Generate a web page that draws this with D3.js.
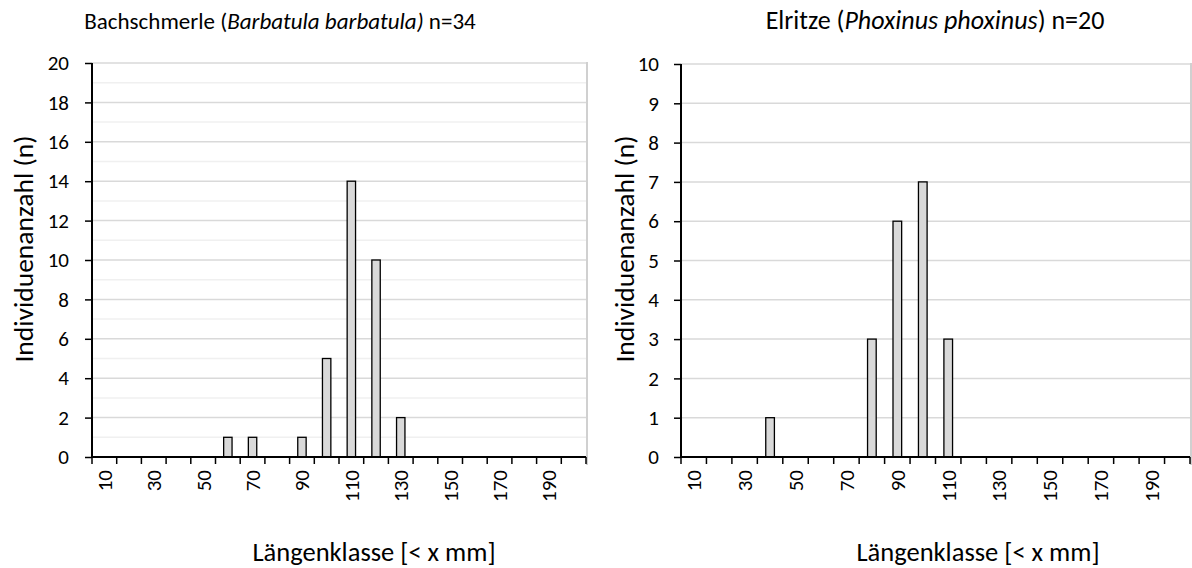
<!DOCTYPE html>
<html>
<head>
<meta charset="utf-8">
<script src="https://cdn.jsdelivr.net/npm/d3@7"></script>
<style>
  body { margin: 0; background: #fff; }
  svg text { font-family: Carlito, Calibri, Lato, sans-serif; fill: #000; }
</style>
</head>
<body>
<div id="chart"></div>
<script>
// Längenklassen (< x mm)
var lengthClasses = [10, 20, 30, 40, 50, 60, 70, 80, 90, 100, 110, 120, 130, 140, 150, 160, 170, 180, 190, 200];
// only every other class gets a label
var shownLabels = [10, 30, 50, 70, 90, 110, 130, 150, 170, 190];

// Bachschmerle counts per class
var schmerleCounts = [0, 0, 0, 0, 0, 1, 1, 0, 1, 5, 14, 10, 2, 0, 0, 0, 0, 0, 0, 0];
var schmerleTicks = [0, 2, 4, 6, 8, 10, 12, 14, 16, 18, 20];
var schmerleMinor = [1, 3, 5, 7, 9, 11, 13, 15, 17, 19];

// Elritze counts per class
var elritzeCounts = [0, 0, 0, 1, 0, 0, 0, 3, 6, 7, 3, 0, 0, 0, 0, 0, 0, 0, 0, 0];
var elritzeTicks = [0, 1, 2, 3, 4, 5, 6, 7, 8, 9, 10];
var elritzeMinor = [];

var FONT = 'Carlito, Calibri, Lato, sans-serif';

var svg = d3.select('#chart')
    .append('svg')
    .attr('width', 1192)
    .attr('height', 568);

function drawPanel(cfg) {
    var g = svg.append('g');

    var x = d3.scaleBand()
        .domain(lengthClasses)
        .range([cfg.left, cfg.right])
        .padding(0);

    var y = d3.scaleLinear()
        .domain([0, d3.max(cfg.ticks)])
        .range([cfg.bottom, cfg.top]);

    // minor gridlines
    g.append('g').selectAll('line')
        .data(cfg.minor)
        .enter()
        .append('line')
        .attr('x1', cfg.left).attr('x2', cfg.right)
        .attr('y1', d => y(d)).attr('y2', d => y(d))
        .attr('stroke', '#f0f0f0')
        .attr('stroke-width', 1.5);

    // major gridlines
    g.append('g').selectAll('line')
        .data(cfg.ticks.filter(d => d > 0))
        .enter()
        .append('line')
        .attr('x1', cfg.left).attr('x2', cfg.right)
        .attr('y1', d => y(d)).attr('y2', d => y(d))
        .attr('stroke', '#d9d9d9')
        .attr('stroke-width', 1.5);

    // right border of the plot area
    g.append('line')
        .attr('x1', cfg.right + 1).attr('x2', cfg.right + 1)
        .attr('y1', cfg.top - 1).attr('y2', cfg.bottom + 8)
        .attr('stroke', '#d0d0d0')
        .attr('stroke-width', 2);

    // bars
    var barW = x.bandwidth() * 0.34;
    g.append('g').selectAll('rect')
        .data(cfg.counts.map((v, i) => ({ cls: lengthClasses[i], n: v })).filter(d => d.n > 0))
        .enter()
        .append('rect')
        .attr('x', d => x(d.cls) + (x.bandwidth() - barW) / 2)
        .attr('y', d => y(d.n))
        .attr('width', barW)
        .attr('height', d => y(0) - y(d.n))
        .attr('fill', '#d9d9d9')
        .attr('stroke', '#000')
        .attr('stroke-width', 1.3);

    // y axis
    var yAxis = d3.axisLeft(y)
        .tickValues(cfg.ticks)
        .tickSize(7)
        .tickPadding(cfg.yPad)
        .tickFormat(d3.format('d'));
    var yG = g.append('g')
        .attr('transform', `translate(${cfg.left}, 0)`)
        .call(yAxis);
    yG.select('.domain').remove();
    yG.selectAll('.tick line').attr('stroke', '#000').attr('stroke-width', 1.5);
    yG.selectAll('.tick text').attr('font-size', 21).attr('fill', '#000')
        .attr('font-family', FONT);

    // x tick marks at class boundaries
    var bounds = lengthClasses.map(c => x(c)).concat([x.range()[1]]);
    g.append('g').selectAll('line')
        .data(bounds)
        .enter()
        .append('line')
        .attr('x1', d => d).attr('x2', d => d)
        .attr('y1', cfg.bottom).attr('y2', cfg.bottom + 7)
        .attr('stroke', '#000')
        .attr('stroke-width', 1.5);

    // x labels (rotated), every other class
    var xAxis = d3.axisBottom(x)
        .tickValues(shownLabels)
        .tickSize(0)
        .tickPadding(0);
    var xG = g.append('g')
        .attr('transform', `translate(0, ${cfg.bottom})`)
        .call(xAxis);
    xG.select('.domain').remove();
    xG.selectAll('.tick text')
        .attr('font-size', 21)
        .attr('fill', '#000')
        .attr('font-family', FONT)
        .attr('text-anchor', 'end')
        .attr('dy', '0.35em')
        .attr('transform', 'translate(0, 13) rotate(-90)')
        .attr('x', 0).attr('y', 0);

    // axis lines
    g.append('line')
        .attr('x1', cfg.left).attr('x2', cfg.left)
        .attr('y1', cfg.top).attr('y2', cfg.bottom)
        .attr('stroke', '#000').attr('stroke-width', 2);
    g.append('line')
        .attr('x1', cfg.left).attr('x2', cfg.right)
        .attr('y1', cfg.bottom).attr('y2', cfg.bottom)
        .attr('stroke', '#000').attr('stroke-width', 2);

    // title
    var t = g.append('text')
        .attr('x', cfg.titleX).attr('y', 29)
        .attr('text-anchor', 'middle')
        .attr('font-size', cfg.titleSize);
    cfg.title.forEach(function(part) {
        t.append('tspan')
            .attr('font-style', part.italic ? 'italic' : 'normal')
            .text(part.text);
    });

    // axis titles
    g.append('text')
        .attr('x', cfg.xTitleX).attr('y', 561)
        .attr('text-anchor', 'middle')
        .attr('font-size', 26.5)
        .text('Längenklasse [< x mm]');

    g.append('text')
        .attr('transform', `translate(${cfg.yTitleX}, 249) rotate(-90)`)
        .attr('text-anchor', 'middle')
        .attr('font-size', 27.5)
        .text('Individuenanzahl (n)');
}

drawPanel({
    left: 92, right: 586, top: 63, bottom: 457,
    counts: schmerleCounts, ticks: schmerleTicks, minor: schmerleMinor,
    title: [{ text: 'Bachschmerle (' }, { text: 'Barbatula barbatula)', italic: true }, { text: ' n=34' }],
    titleX: 280, titleSize: 23, xTitleX: 374, yTitleX: 33, yPad: 16
});

drawPanel({
    left: 681, right: 1190, top: 64, bottom: 457,
    counts: elritzeCounts, ticks: elritzeTicks, minor: elritzeMinor,
    title: [{ text: 'Elritze (' }, { text: 'Phoxinus phoxinus', italic: true }, { text: ') n=20' }],
    titleX: 935, titleSize: 26, xTitleX: 978, yTitleX: 634, yPad: 15
});
</script>
</body>
</html>
